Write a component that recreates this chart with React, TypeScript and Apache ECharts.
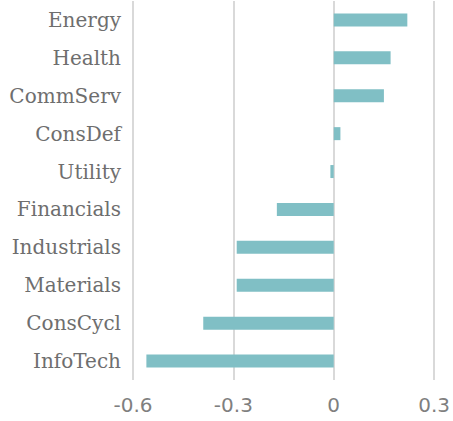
import React, { useEffect, useRef } from "react";
import * as echarts from "echarts";

const categories = ["Energy", "Health", "CommServ", "ConsDef", "Utility", "Financials", "Industrials", "Materials", "ConsCycl", "InfoTech"];
const values = [0.22, 0.17, 0.15, 0.02, -0.01, -0.17, -0.29, -0.29, -0.39, -0.56];
const xTicks = { min: -0.6, max: 0.3, interval: 0.3 };

export default function App() {
  const ref = useRef<HTMLDivElement>(null);
  useEffect(() => {
    const chart = echarts.init(ref.current!, null, { renderer: "svg" });
    chart.setOption({
      animation: false,
      grid: { left: 133, right: 14, top: 1, bottom: 41, containLabel: false },
      xAxis: {
        type: "value",
        min: xTicks.min,
        max: xTicks.max,
        interval: xTicks.interval,
        axisLine: { show: false },
        axisTick: { show: false },
        splitLine: { show: true, lineStyle: { color: "#d9d9d9", width: 2 } },
        axisLabel: {
          color: "#7f7f7f",
          fontFamily: "DejaVu Sans",
          fontSize: 20,
          margin: 15,
          formatter: (v: number) => (Math.abs(v) < 1e-9 ? "0" : String(Math.round(v * 10) / 10)),
        },
      },
      yAxis: {
        type: "category",
        inverse: true,
        data: categories,
        axisLine: { show: false },
        axisTick: { show: false },
        axisLabel: { color: "#6e6e6e", fontFamily: "DejaVu Serif", fontSize: 20, margin: 12 },
      },
      series: [
        {
          type: "bar",
          data: values,
          barWidth: 13,
          itemStyle: { color: "#80bfc5" },
        },
      ],
    });
    return () => chart.dispose();
  }, []);
  return (
    <div
      ref={ref}
      style={{ position: "absolute", left: 0, top: 0, width: 453, height: 421 }}
    />
  );
}
